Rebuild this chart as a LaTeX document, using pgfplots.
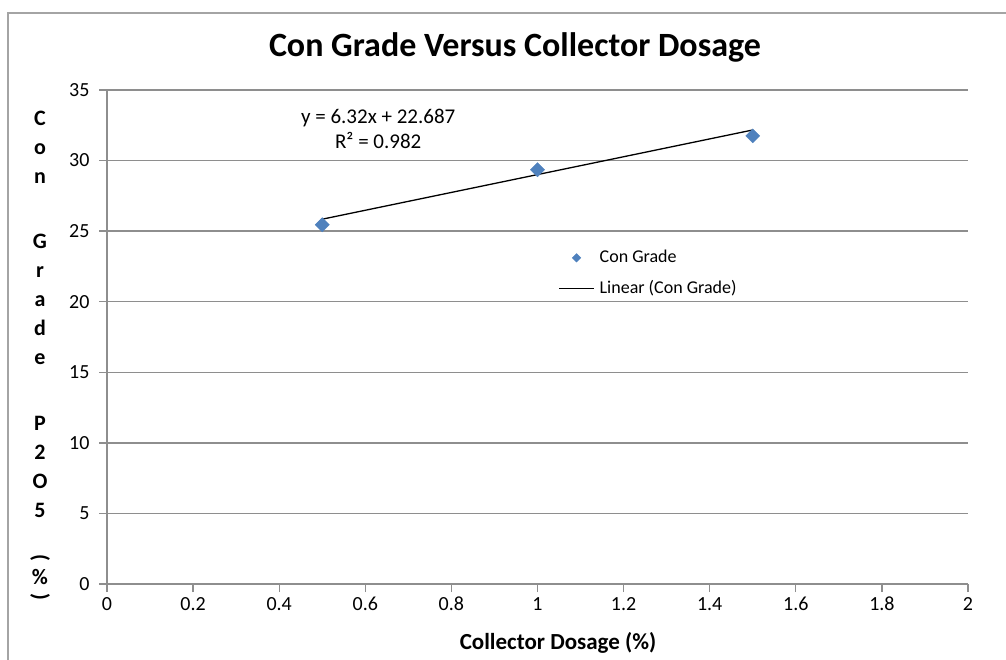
\documentclass[border=0pt]{standalone}
\usepackage{pgfplots}
\pgfplotsset{compat=1.18}
\usepackage{fontspec}
\setmainfont{Carlito}
\definecolor{excelblue}{HTML}{4F81BD}
\definecolor{gridgray}{HTML}{8E8E8E}
\pgfplotsset{
  legdiamond/.style={legend image code/.code={\draw[##1] plot coordinates {(17.5pt,0pt)};}},
  legline/.style={legend image code/.code={\draw[##1] (0pt,0pt) -- (35pt,0pt);}},
}
\begin{document}
\begin{tikzpicture}[x=1pt,y=1pt]
\useasboundingbox (0,0) rectangle (1006,659);
% chart area border (left and top only are in view)
\draw[gridgray!80, line width=1.5pt] (8,-5) -- (8,646) -- (1015,646);
% title
\node[font=\bfseries\fontsize{34}{34}\selectfont] at (515,612) {Con Grade Versus Collector Dosage};
% stacked y label
\foreach \c/\y in {C/126,o/155,n/184,G/249,r/278,a/307,d/336,e/365,P/430,2/459,O/488,5/517}
  \node[anchor=base, font=\bfseries\fontsize{22}{22}\selectfont, inner sep=0pt] at (40,659-\y) {\c};
\node[rotate=-90, font=\bfseries\fontsize{22}{22}\selectfont, inner sep=0pt] at (40,659-558) {(};
\node[font=\bfseries\fontsize{22}{22}\selectfont, inner sep=0pt] at (40,659-577) {\%};
\node[rotate=-90, font=\bfseries\fontsize{22}{22}\selectfont, inner sep=0pt] at (40,659-597) {)};
% x label
\node[font=\bfseries\fontsize{23}{23}\selectfont] at (558,16) {Collector Dosage (\%)};
\begin{axis}[
  at={(107pt,75pt)}, anchor=south west,
  scale only axis, width=861pt, height=494pt,
  xmin=0, xmax=2, ymin=0, ymax=35,
  xtick={0,0.2,0.4,0.6,0.8,1,1.2,1.4,1.6,1.8,2},
  ytick={0,5,10,15,20,25,30,35},
  axis x line*=bottom, axis y line*=left,
  axis line style={gridgray, line width=1.3pt},
  tick align=outside, major tick length=8pt,
  tick style={gridgray, line width=1.3pt},
  ymajorgrids, major grid style={gridgray, line width=1.3pt},
  ticklabel style={font=\fontsize{20}{20}\selectfont, text=black},
  xticklabel style={anchor=north, text height=13pt, text depth=0pt, yshift=-2pt},
  yticklabel style={anchor=east, xshift=-6pt},
  /pgf/number format/assume math mode=true,
  legend style={draw=none, fill=none, anchor=north west, at={(0.524,0.682)},
    inner sep=0pt, row sep=10pt,
    nodes={inner sep=2pt, text height=13pt, text depth=4pt, anchor=west},
    /tikz/every odd column/.append style={column sep=3pt},
    font=\fontsize{18}{18}\selectfont},
  legend cell align=left,
]
\addlegendimage{legdiamond, only marks, mark=square*, mark size=3pt,
  mark options={rotate=45, fill=excelblue, draw=excelblue}}
\addlegendentry{Con Grade}
\addlegendimage{legline, black, line width=1.3pt}
\addlegendentry{Linear (Con Grade)}
\addplot[forget plot, black, line width=1.3pt, no marks] coordinates {(0.5,25.847) (1.5,32.167)};
\addplot[forget plot, only marks, mark=square*, mark size=5pt,
  mark options={rotate=45, fill=excelblue, draw=excelblue}]
  coordinates {(0.5,25.45) (1,29.35) (1.5,31.75)};
\node[align=center, font=\fontsize{21}{25}\selectfont] at (axis cs:0.63,32.27) {y = 6.32x + 22.687\\R² = 0.982};
\end{axis}
\end{tikzpicture}
\end{document}
